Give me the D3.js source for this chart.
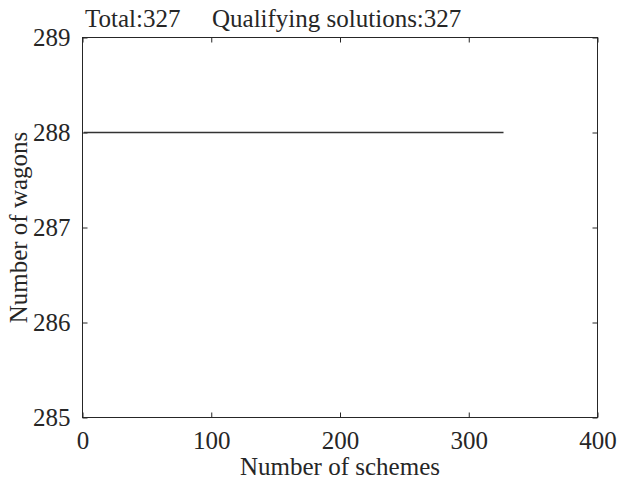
<!DOCTYPE html>
<html>
<head>
<meta charset="utf-8">
<script src="https://cdn.jsdelivr.net/npm/d3@7"></script>
<style>
  body { margin: 0; background: #fff; }
  text { font-family: "Liberation Serif", "Times New Roman", serif; fill: #262626; }
</style>
</head>
<body>
<div id="chart"></div>
<script>
// data: a flat line of 288 wagons over schemes 1..327
const schemes = [1, 327];
const wagons = [288, 288];
const xTicks = [0, 100, 200, 300, 400];
const yTicks = [285, 286, 287, 288, 289];
const titleParts = ['Total:327', 'Qualifying solutions:327'];

const width = 619, height = 483;
const margin = { top: 37.5, right: 21.5, bottom: 65.5, left: 82.5 };
const w = width - margin.left - margin.right;
const h = height - margin.top - margin.bottom;
const fontSize = '25px';

const svg = d3.select('#chart').append('svg')
  .attr('width', width)
  .attr('height', height);

const g = svg.append('g')
  .attr('transform', `translate(${margin.left},${margin.top})`);

const x = d3.scaleLinear().domain([0, 400]).range([0, w]);
const y = d3.scaleLinear().domain([285, 289]).range([h, 0]);

const axisColor = '#262626';
const tickLen = 5;

// box
g.append('rect')
  .attr('x', 0).attr('y', 0)
  .attr('width', w).attr('height', h)
  .attr('fill', 'none')
  .attr('stroke', axisColor)
  .attr('stroke-width', 1);

// bottom / left axes with inward ticks
const xAxis = g.append('g')
  .attr('transform', `translate(0,${h})`)
  .call(d3.axisBottom(x).tickValues(xTicks).tickFormat(d3.format('d'))
    .tickSizeInner(-tickLen).tickSizeOuter(0).tickPadding(14));
const yAxis = g.append('g')
  .call(d3.axisLeft(y).tickValues(yTicks).tickFormat(d3.format('d'))
    .tickSizeInner(-tickLen).tickSizeOuter(0).tickPadding(12));

// mirrored ticks on top / right
g.append('g')
  .call(d3.axisTop(x).tickValues(xTicks).tickSizeInner(-tickLen).tickSizeOuter(0).tickFormat(''));
g.append('g')
  .attr('transform', `translate(${w},0)`)
  .call(d3.axisRight(y).tickValues(yTicks).tickSizeInner(-tickLen).tickSizeOuter(0).tickFormat(''));

g.selectAll('.domain').remove();
g.selectAll('.tick line').attr('stroke', axisColor);
g.selectAll('.tick text')
  .style('font-family', '"Liberation Serif", "Times New Roman", serif')
  .style('font-size', fontSize)
  .attr('fill', axisColor);

// the data line
const line = d3.line()
  .x(d => x(d[0]))
  .y(d => y(d[1]));

g.append('path')
  .datum(schemes.map((s, i) => [s, wagons[i]]))
  .attr('d', line)
  .attr('fill', 'none')
  .attr('stroke', '#333')
  .attr('stroke-width', 1.3);

// labels
svg.append('text')
  .attr('x', margin.left + w / 2)
  .attr('y', 475)
  .attr('text-anchor', 'middle')
  .style('font-size', fontSize)
  .text('Number of schemes');

svg.append('text')
  .attr('transform', `translate(27,${margin.top + h / 2}) rotate(-90)`)
  .attr('text-anchor', 'middle')
  .style('font-size', fontSize)
  .text('Number of wagons');

// title, two pieces with the wide gap between them
svg.selectAll('.title')
  .data(titleParts)
  .enter().append('text')
  .attr('class', 'title')
  .attr('x', (d, i) => i === 0 ? 85 : 212)
  .attr('y', 27)
  .style('font-size', fontSize)
  .text(d => d);
</script>
</body>
</html>
